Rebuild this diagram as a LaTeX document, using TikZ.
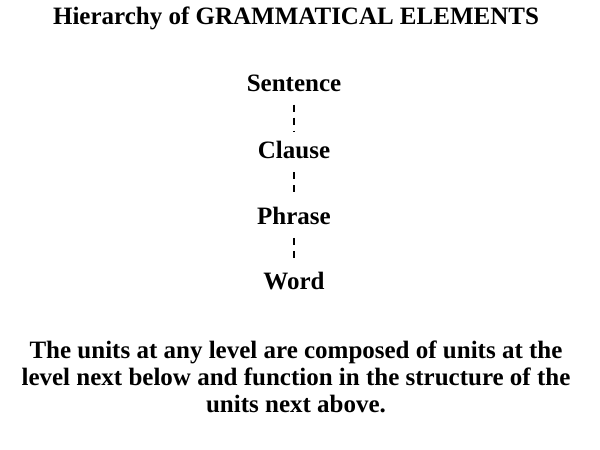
\documentclass[tikz,border=0pt]{standalone}
\usepackage{fontspec}
\setmainfont{Liberation Serif}
\usepackage{tikz}

\begin{document}
\begin{tikzpicture}
  [x=1pt,y=-1pt,every node/.style={font=\fontsize{25}{27}\selectfont\bfseries,inner sep=0pt},
   link/.style={line width=1.3pt,dash pattern=on 7pt off 6pt}]
  \useasboundingbox (0,0) rectangle (600,450);
  \node (title) at (296,18) {Hierarchy of GRAMMATICAL ELEMENTS};
  \node (n1) at (294,83) {Sentence};
  \node (n2) at (294,150) {Clause};
  \node (n3) at (294,216) {Phrase};
  \node (n4) at (294,281) {Word};
  \node [align=center] (note) at (296,377) {The units at any level are composed of units at the\\
    level next below and function in the structure of the\\ units next above.};

  \foreach \from/\to in {n1/n2,n2/n3,n3/n4}
    \draw [link,shorten <=13pt,shorten >=10pt] (\from.south) -- (\to.north);

\end{tikzpicture}
\end{document}
